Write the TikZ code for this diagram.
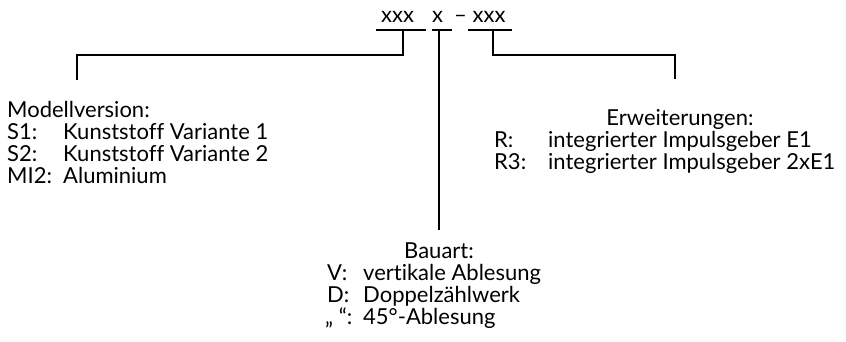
\documentclass[tikz,border=0pt]{standalone}
\usepackage{fontspec}
\setmainfont{Lato}[Ligatures={NoCommon,NoRare}]
\begin{document}
\begin{tikzpicture}[x=1pt,y=-1pt,
    font=\fontsize{22}{23}\selectfont,
    txt/.style={inner sep=0pt,anchor=base west},
    head/.style={inner sep=0pt,anchor=base},
    bar/.style={line width=2pt}]
  \useasboundingbox (0,0) rectangle (846,341);
  \draw
    (381,22) node[txt] (c1){xxx}
    (432,22) node[txt] (c2){x}
    (454,22) node[txt] (c3){– xxx};
  \coordinate (b1w) at (376,30);
  \coordinate (b1e) at (426,30);
  \coordinate (b2w) at (432,30);
  \coordinate (b2e) at (452,30);
  \coordinate (b3w) at (468,30);
  \coordinate (b3e) at (512,30);
  \coordinate (t1) at (403,30);
  \coordinate (m1) at (77,54.5);
  \coordinate (e1) at (77,80);
  \coordinate (t2) at (439,30);
  \coordinate (e2) at (439,230);
  \coordinate (t3) at (493,30);
  \coordinate (m3) at (675,54.5);
  \coordinate (e3) at (675,79);
  \begin{scope}[bar]
    \draw (b1w) -- (b1e);
    \draw (b2w) -- (b2e);
    \draw (b3w) -- (b3e);
    \draw (t1) |- (m1) -- (e1);
    \draw (t2) -- (e2);
    \draw (t3) |- (m3) -- (e3);
  \end{scope}
  \draw
    (7,117) node[txt] (mod){Modellversion:}
    (7,139.5) node[txt] (s1){S1:}
    (63,139.5) node[txt] (s1t){Kunststoff Variante 1}
    (7,161.5) node[txt] (s2){S2:}
    (63,161.5) node[txt] (s2t){Kunststoff Variante 2}
    (7,183.5) node[txt] (mi2){MI2:}
    (63,183.5) node[txt] (mi2t){Aluminium};
  \draw
    (680,125) node[head] (erw){Erweiterungen:}
    (494,147) node[txt] (r){R:}
    (548,147) node[txt] (rt){integrierter Impulsgeber E1}
    (494,169) node[txt] (r3){R3:}
    (548,169) node[txt] (r3t){integrierter Impulsgeber 2xE1};
  \draw
    (439,258) node[head] (bau){Bauart:}
    (327,280.5) node[txt] (v){V:}
    (363,280.5) node[txt] (vt){vertikale Ablesung}
    (327,302.5) node[txt] (d){D:}
    (363,302.5) node[txt] (dt){Doppelzählwerk}
    (325,324.5) node[txt] (q){„ “:}
    (363,324.5) node[txt] (qt){45°-Ablesung};
\end{tikzpicture}
\end{document}
